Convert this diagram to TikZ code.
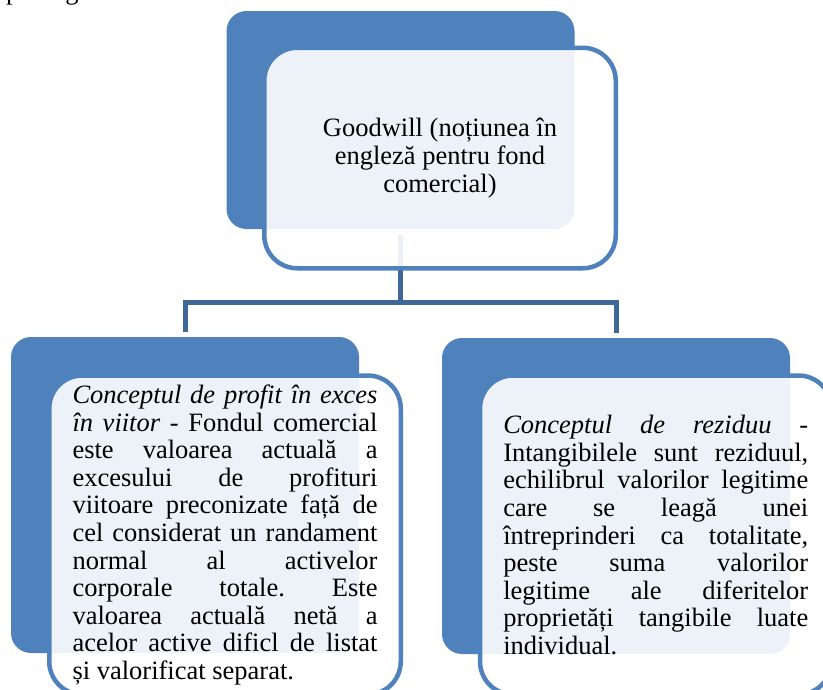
\documentclass[tikz,border=0pt]{standalone}
\usepackage{fontspec}
\setmainfont{Liberation Serif}
\usetikzlibrary{positioning}
\definecolor{boxblue}{RGB}{79,129,189}
\definecolor{linkblue}{RGB}{62,104,152}
\tolerance=10000 \hbadness=10000 \hyphenpenalty=10000 \exhyphenpenalty=10000
\frenchspacing

\begin{document}
\begin{tikzpicture}[x=1pt,y=-1pt,
		back/.style={fill=boxblue,rounded corners=20pt,inner sep=0pt,minimum width=348pt},
		front/.style={draw=boxblue,line width=4.5pt,fill=white,fill opacity=0.9,text opacity=1,
			rounded corners=33pt,inner sep=0pt,minimum width=351.5pt,minimum height=319pt,
			font=\fontsize{26.5}{27.6}\selectfont},
		link/.style={draw=linkblue,line width=5pt,shorten <=6pt,shorten >=5pt}]
		\useasboundingbox (0,0) rectangle (823,689);
		% cut line of the page above
		\node[anchor=base west,inner sep=0pt,font=\fontsize{26.5}{27.6}\selectfont] (frag) at (6,-0.5) {pe larg.};
		\node[back,minimum height=218pt] (0b) at (400.5,120) {};
		\node[back,minimum height=316pt] (1b) at (185,495) {};
		\node[back,minimum height=316pt] (2b) at (616,496) {};
		\draw[link] (0b.south) -- ++(0,73) -| (1b.north);
		\draw[link] (0b.south) -- ++(0,73) -| (2b.north);
		\node[front,minimum height=220.5pt,align=center] (0) at (440,158)
		{Goodwill (noțiunea în\\ engleză pentru fond\\ comercial)};
		\node[front,text width=305pt,align=justify] (1) at (225,535)
		{\textit{Conceptul de profit în exces\linebreak în viitor} - Fondul comercial\linebreak
			este valoarea actuală a\linebreak excesului de profituri\linebreak
			viitoare preconizate față de\linebreak cel considerat un randament\linebreak
			normal al activelor\linebreak corporale totale. Este\linebreak
			valoarea actuală netă a\linebreak acelor active dificl de listat\linebreak
			și valorificat separat.};
		\node[front,text width=305pt,align=justify] (2) at (655.75,535)
		{\textit{Conceptul de reziduu} -\linebreak Intangibilele sunt reziduul,\linebreak
			echilibrul valorilor legitime\linebreak care se leagă unei\linebreak
			întreprinderi ca totalitate,\linebreak peste suma valorilor\linebreak
			legitime ale diferitelor\linebreak proprietăți tangibile luate\linebreak
			individual.};
	\end{tikzpicture}
\end{document}
